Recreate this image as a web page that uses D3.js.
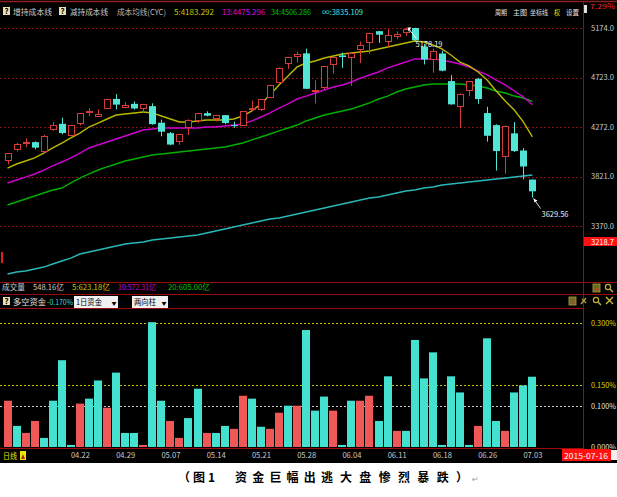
<!DOCTYPE html>
<html><head><meta charset="utf-8">
<script src="https://cdn.jsdelivr.net/npm/d3@7"></script>
<style>
html,body{margin:0;padding:0;background:#fff;}
svg{display:block;}
text{font-family:"Noto Sans CJK SC","DejaVu Sans",sans-serif;}
</style></head><body>
<svg id="c" width="617" height="497"></svg>
<script>
const dates = ["04.10","04.13","04.14","04.15","04.16","04.17","04.20","04.21","04.22","04.23","04.24","04.27","04.28","04.29","04.30","05.04","05.05","05.06","05.07","05.08","05.11","05.12","05.13","05.14","05.15","05.18","05.19","05.20","05.21","05.22","05.25","05.26","05.27","05.28","05.29","06.01","06.02","06.03","06.04","06.05","06.08","06.09","06.10","06.11","06.12","06.15","06.16","06.17","06.18","06.19","06.23","06.24","06.25","06.26","06.29","06.30","07.01","07.02","07.03"];
const openP = [3966,4072,4125,4134,4060,4254,4301,4204,4304,4405,4372,4441,4528,4460,4483,4441,4462,4311,4216,4141,4271,4339,4398,4347,4380,4289,4286,4437,4438,4551,4683,4854,4924,4943,4603,4633,4844,4924,4912,4984,5045,5145,5049,5101,5143,5174,5004,4890,4942,4690,4471,4604,4711,4399,4289,4006,4214,4058,3793];
const highP = [4034,4128,4168,4141,4200,4317,4356,4293,4398,4444,4433,4529,4572,4499,4505,4480,4488,4340,4227,4209,4342,4401,4415,4384,4380,4320,4418,4512,4529,4657,4814,4911,4958,4986,4698,4829,4910,4951,4947,5051,5131,5147,5164,5143,5178.19,5176,5029,4985,4966,4744,4577,4690,4720,4456,4297,4287,4317,4080,3793];
const lowP = [3930,4048,4088,4069,4037,4238,4205,4187,4286,4370,4367,4441,4432,4444,4431,4398,4293,4187,4107,4110,4200,4308,4369,4323,4297,4264,4285,4419,4418,4549,4683,4802,4860,4618,4486,4616,4759,4811,4647,4854,4939,5038,5001,5072,5103,5048,4842,4767,4780,4476,4264,4552,4483,4139,3875,3847,4043,3795,3629.56];
const closeP = [4034,4121,4135,4084,4194,4287,4217,4293,4398,4414,4393,4527,4476,4476,4441,4480,4298,4229,4112,4205,4333,4401,4375,4378,4308,4283,4417,4446,4529,4657,4813,4910,4941,4620,4611,4828,4910,4909,4947,5023,5131,5113,5106,5121,5166,5062,4887,4967,4785,4478,4576,4690,4527,4192,4053,4277,4053,3912,3686];
const cost5 = [3898,3935,3962,3990,4035,4081,4126,4172,4217,4272,4308,4345,4381,4390,4400,4409,4400,4372,4345,4318,4318,4327,4336,4336,4336,4345,4372,4418,4482,4564,4655,4737,4819,4855,4873,4901,4919,4937,4946,4955,4964,4983,5001,5019,5037,5056,5046,5019,4983,4928,4864,4828,4773,4700,4600,4509,4427,4318,4183];
const cost13 = [3762,3789,3816,3844,3880,3917,3953,3990,4035,4081,4108,4135,4163,4190,4217,4245,4254,4263,4263,4263,4263,4263,4272,4272,4281,4290,4299,4327,4363,4400,4445,4482,4527,4554,4582,4609,4636,4655,4682,4718,4746,4773,4810,4837,4864,4892,4892,4892,4882,4864,4846,4819,4782,4746,4700,4655,4600,4545,4475];
const cost34 = [3561,3589,3616,3643,3671,3698,3716,3762,3807,3844,3880,3908,3935,3962,3980,3999,4017,4026,4035,4044,4053,4062,4072,4081,4090,4108,4126,4154,4181,4208,4236,4263,4290,4327,4354,4381,4400,4418,4436,4463,4491,4527,4554,4591,4618,4636,4655,4664,4664,4664,4664,4655,4646,4627,4600,4582,4554,4536,4506];
const costInf = [2933,2951,2960,2978,2996,3024,3051,3078,3115,3133,3151,3170,3188,3206,3215,3224,3242,3252,3261,3270,3279,3288,3306,3324,3343,3361,3379,3397,3416,3434,3443,3461,3479,3498,3516,3534,3552,3570,3589,3607,3625,3634,3652,3671,3689,3698,3716,3725,3744,3753,3762,3771,3780,3789,3798,3807,3817,3826,3835];
const flow = [0.112,-0.051,0.034,0.063,-0.022,-0.112,-0.210,-0.005,0.105,-0.117,-0.161,0.095,-0.180,-0.034,-0.034,0.005,-0.302,-0.112,0.063,0.022,-0.070,-0.141,0.034,-0.034,-0.051,0.044,0.124,-0.117,-0.049,0.044,0.083,-0.100,0.100,-0.283,-0.088,-0.122,0.088,-0.005,-0.112,0.112,0.124,-0.063,-0.171,0.039,-0.039,-0.259,-0.166,-0.229,-0.005,-0.171,-0.132,-0.005,0.051,-0.263,-0.063,0.039,-0.132,-0.149,-0.170];
const priceTicks = [5174.0, 4723.0, 4272.0, 3821.0, 3370.0];
const dateTicks = ["04.22","04.29","05.07","05.14","05.21","05.28","06.04","06.11","06.18","06.26","07.03"];
const flowTicks = [0.300, 0.150, 0.100, 0.000];

const RED = "#d43c3c", CYAN = "#52e4d4", BRED = "#f05858", BCYAN = "#44e0d0";
const GRIDRED = "#8a1010";
const svg = d3.select("#c");
svg.append("rect").attr("x",0).attr("y",0).attr("width",617).attr("height",463).attr("fill","#000");

const x = d3.scalePoint().domain(dates).range([7.5, 532.4]);
const y = d3.scaleLinear().domain([3370, 5174]).range([226, 28]);
const yf = d3.scaleLinear().domain([0, 0.3]).range([447, 323]);
const cx = d => Math.round(x(d)) + 0.5;

function txt(px, py, s, color, size, len, opts = {}) {
  const t = svg.append("text").attr("x", px).attr("y", py).text(s)
    .attr("fill", color).attr("font-size", size);
  if (len) t.attr("textLength", len).attr("lengthAdjust", opts.adj || "spacingAndGlyphs");
  if (opts.weight) t.attr("font-weight", opts.weight);
  if (opts.family) t.attr("font-family", opts.family);
  if (opts.anchor) t.attr("text-anchor", opts.anchor);
  return t;
}
function qIcon(px, py) {
  svg.append("rect").attr("x", px).attr("y", py).attr("width", 7).attr("height", 8).attr("fill", "#e8e0b0");
  txt(px + 3.5, py + 7, "?", "#000", 8, null, {anchor: "middle", weight: "bold", family: "DejaVu Sans"});
}

// top border line
svg.append("line").attr("x1",0).attr("x2",617).attr("y1",1.5).attr("y2",1.5).attr("stroke","#8a2020").attr("stroke-width",1.5);

// header
qIcon(3, 7);
txt(13, 15, "增持成本线", "#c8c8c8", 8, 39);
qIcon(59, 7);
txt(70, 15, "减持成本线", "#c8c8c8", 8, 38);
txt(117, 15, "成本均线(CYC)", "#b8b8b8", 8, 49);
txt(174, 15, "5:4183.292", "#c8c800", 8, 40, {family: "DejaVu Sans Mono"});
txt(222, 15, "13:4475.296", "#e000e0", 8, 43, {family: "DejaVu Sans Mono"});
txt(271, 15, "34:4506.286", "#00c000", 8, 40, {family: "DejaVu Sans Mono"});
txt(322, 15, "∞:3835.109", "#40e0e0", 8, 41, {family: "DejaVu Sans Mono"});
txt(495, 15, "周期", "#e0e0e0", 7, 12);
txt(513, 15, "主图", "#e0e0e0", 7, 14);
txt(530, 15, "坐标线", "#e0e0e0", 7, 18);
txt(554, 15, "权", "#e0e000", 7, 6);
txt(566, 15, "设置", "#e0e0e0", 7, 13);
svg.append("rect").attr("x",584).attr("y",5).attr("width",3).attr("height",8).attr("fill","#e0e0e0");
txt(590, 9, "7.29%", "#ff2020", 7, 25, {family: "DejaVu Sans Mono"});

// price grid
svg.append("g").selectAll("line").data(priceTicks).join("line")
  .attr("x1", 0).attr("x2", 583).attr("y1", d => Math.round(y(d)) + 0.5).attr("y2", d => Math.round(y(d)) + 0.5)
  .attr("stroke", GRIDRED).attr("stroke-dasharray", "2,2");

// price axis
const ax = svg.append("g").attr("transform", "translate(588,0)")
  .call(d3.axisRight(y).tickValues(priceTicks).tickFormat(d3.format(".1f")).tickSize(0).tickPadding(3));
ax.select(".domain").remove();
ax.selectAll("text").attr("fill", "#c8c8c8").attr("font-size", 7.5).attr("font-family", "DejaVu Sans Mono")
  .attr("textLength", 23).attr("lengthAdjust", "spacingAndGlyphs");
svg.append("rect").attr("x", 583).attr("y", 237).attr("width", 34).attr("height", 9).attr("fill", "#ff1010");
txt(591, 245, "3218.7", "#fff", 7.5, 23, {family: "DejaVu Sans Mono"});

// left small marker
svg.append("rect").attr("x", 1).attr("y", 252).attr("width", 2).attr("height", 11).attr("fill", "#e02020");

// clip main
svg.append("clipPath").attr("id", "cm").append("rect").attr("x", 0).attr("y", 18).attr("width", 583).attr("height", 263);
const gc = svg.append("g").attr("clip-path", "url(#cm)");

// cost lines
const lineGen = arr => d3.line().x((d, i) => x(dates[i])).y(d => y(d))(arr);
[[costInf, "#28b8b8"], [cost34, "#00b000"], [cost13, "#d000d0"], [cost5, "#b8b800"]].forEach(([arr, col]) => {
  gc.append("path").attr("d", lineGen(arr)).attr("fill", "none").attr("stroke", col).attr("stroke-width", 1.4);
});

// candles
dates.forEach((d, i) => {
  const up = closeP[i] >= openP[i];
  const col = up ? RED : CYAN;
  const xc = cx(d);
  gc.append("line").attr("x1", xc).attr("x2", xc).attr("y1", y(highP[i])).attr("y2", y(lowP[i])).attr("stroke", col);
  const top = y(Math.max(openP[i], closeP[i])), bot = y(Math.min(openP[i], closeP[i]));
  const h = Math.max(1, bot - top);
  if (up) {
    gc.append("rect").attr("x", xc - 3).attr("y", Math.round(top) + 0.5).attr("width", 6).attr("height", Math.max(1, Math.round(h)))
      .attr("fill", "#000").attr("stroke", col);
  } else {
    gc.append("rect").attr("x", xc - 3.5).attr("y", top).attr("width", 7).attr("height", h).attr("fill", col);
  }
});

// annotations: high & low
const iHi = highP.indexOf(d3.max(highP)), iLo = lowP.indexOf(d3.min(lowP));
const hx = cx(dates[iHi]), hy = y(highP[iHi]);
svg.append("line").attr("x1", hx + 2).attr("y1", hy + 1).attr("x2", hx + 10).attr("y2", hy + 11).attr("stroke", "#fff");
svg.append("path").attr("d", `M${hx+1},${hy} l4,0 l-3,4 z`).attr("fill", "#fff");
txt(hx + 9, hy + 19, d3.format(".2f")(highP[iHi]), "#e8e8e8", 8, 27, {family: "DejaVu Sans Mono"});
const lx = cx(dates[iLo]), ly = y(lowP[iLo]);
svg.append("line").attr("x1", lx + 1).attr("y1", ly + 1).attr("x2", lx + 8).attr("y2", ly + 11).attr("stroke", "#ddd");
svg.append("path").attr("d", `M${lx+1},${ly+1} l1,4 l3,-2 z`).attr("fill", "#fff");
txt(lx + 9, ly + 19, d3.format(".2f")(lowP[iLo]), "#e8e8e8", 8, 27, {family: "DejaVu Sans Mono"});

// separator lines
[[282.5, 617], [294.5, 617], [308.5, 583], [448.5, 583]].forEach(([yy, x2]) =>
  svg.append("line").attr("x1", 0).attr("x2", x2).attr("y1", yy).attr("y2", yy).attr("stroke", "#9a0c0c"));
svg.append("line").attr("x1", 583.5).attr("x2", 583.5).attr("y1", 2).attr("y2", 449).attr("stroke", "#9a0c0c");

// volume row
txt(2, 290, "成交量", "#d0d0d0", 8, 23);
txt(33, 290, "548.16亿", "#c8c8c8", 8, 31);
txt(72, 290, "5:623.18亿", "#c8c800", 8, 38);
txt(118, 290, "10:572.31亿", "#d000d0", 8, 38);
txt(168, 290, "20:605.00亿", "#00c000", 8, 42);

// icons
function boxIcon(px, py) {
  svg.append("rect").attr("x", px).attr("y", py).attr("width", 7).attr("height", 8).attr("fill", "#6a6a20").attr("stroke", "#b0a040").attr("stroke-width", 0.8);
  svg.append("rect").attr("x", px + 2).attr("y", py + 4).attr("width", 3).attr("height", 2).attr("fill", "#e03030");
}
function magIcon(px, py) {
  svg.append("circle").attr("cx", px + 3).attr("cy", py + 3).attr("r", 2.6).attr("fill", "none").attr("stroke", "#c0b040").attr("stroke-width", 1.2);
  svg.append("line").attr("x1", px + 5).attr("y1", py + 5).attr("x2", px + 8).attr("y2", py + 8).attr("stroke", "#c0b040").attr("stroke-width", 1.5);
}
boxIcon(593, 284); magIcon(605, 284);
boxIcon(569, 297);
svg.append("path").attr("d", "M581,304 l5,-6 M582,299 l4,4").attr("stroke", "#b0a040").attr("stroke-width", 1.3);
magIcon(593, 297);
svg.append("path").attr("d", "M606,297 l7,7 M613,297 l-7,7").attr("stroke", "#d0c040").attr("stroke-width", 1.3);

// flow row
qIcon(3, 297);
txt(13, 305, "多空资金", "#e0e0e0", 8, 33);
txt(47, 305, (flow[flow.length - 1] * 1).toFixed(3) + "%", "#40d8c8", 7.5, 26, {family: "DejaVu Sans Mono"});
svg.append("rect").attr("x", 74).attr("y", 296).attr("width", 44).attr("height", 12).attr("fill", "#f0f0f0");
txt(76, 305, "1日资金", "#000", 8, 26);
txt(114, 305, "▼", "#000", 5, null, {anchor: "middle", family: "DejaVu Sans"});
svg.append("rect").attr("x", 132).attr("y", 296).attr("width", 36).attr("height", 12).attr("fill", "#f0f0f0");
txt(134, 305, "两向柱", "#000", 8, 22);
txt(164, 305, "▼", "#000", 5, null, {anchor: "middle", family: "DejaVu Sans"});

// flow grid lines
const fgCol = {0.3: "#c8c800", 0.15: "#c8c800", 0.1: "#c8c8c8"};
svg.append("g").selectAll("line").data(flowTicks.filter(v => v > 0)).join("line")
  .attr("x1", 0).attr("x2", 583).attr("y1", d => Math.round(yf(d)) + 0.5).attr("y2", d => Math.round(yf(d)) + 0.5)
  .attr("stroke", d => fgCol[d]).attr("stroke-dasharray", "2,2");

// flow bars
svg.append("g").selectAll("rect").data(dates).join("rect")
  .attr("x", d => Math.round(x(d)) - 4).attr("width", 8)
  .attr("y", (d, i) => yf(Math.abs(flow[i]))).attr("height", (d, i) => yf(0) - yf(Math.abs(flow[i])))
  .attr("fill", (d, i) => flow[i] >= 0 ? BRED : BCYAN);

// flow axis
svg.append("clipPath").attr("id", "cf").append("rect").attr("x", 584).attr("y", 310).attr("width", 33).attr("height", 139);
const fa = svg.append("g").attr("clip-path", "url(#cf)").append("g").attr("transform", "translate(588,0)")
  .call(d3.axisRight(yf).tickValues(flowTicks).tickFormat(d => d.toFixed(3) + "%").tickSize(0).tickPadding(3));
fa.select(".domain").remove();
fa.selectAll("text").attr("fill", d => d >= 0.15 ? "#d8d800" : "#e0e0e0").attr("font-size", 7.5)
  .attr("font-family", "DejaVu Sans Mono").attr("textLength", 25).attr("lengthAdjust", "spacingAndGlyphs");

// date axis
const da = svg.append("g").attr("transform", "translate(0,450)")
  .call(d3.axisBottom(x).tickValues(dateTicks).tickSize(0).tickPadding(2));
da.select(".domain").remove();
da.selectAll("text").attr("fill", "#c8c8c8").attr("font-size", 8).attr("font-family", "DejaVu Sans Mono")
  .attr("textLength", 19).attr("lengthAdjust", "spacingAndGlyphs");
txt(3, 459, "日线", "#e8e800", 8, 14);
svg.append("rect").attr("x", 20).attr("y", 451).attr("width", 6).attr("height", 9).attr("fill", "#e8e800");
svg.append("path").attr("d", "M21,459 l2,-5 l2,5 z").attr("fill", "#c02020");
svg.append("rect").attr("x", 562).attr("y", 449).attr("width", 49).attr("height", 12).attr("fill", "#ff1010");
txt(564, 459, "2015-07-16", "#fff", 7.5, 44, {family: "DejaVu Sans Mono"});
svg.append("rect").attr("x", 611).attr("y", 450).attr("width", 6).attr("height", 10).attr("fill", "#f0f0f0");

// caption
txt(178, 482, "（图1", "#000", 12, 37, {weight: "bold", adj: "spacing"});
txt(235, 482, "资金巨幅出逃", "#000", 12, 98, {weight: "bold", adj: "spacing"});
txt(340, 482, "大盘惨烈暴跌）", "#000", 12, 128, {weight: "bold", adj: "spacing"});
txt(472, 482, "↵", "#999", 8, null, {family: "DejaVu Sans"});
</script>
</body></html>
